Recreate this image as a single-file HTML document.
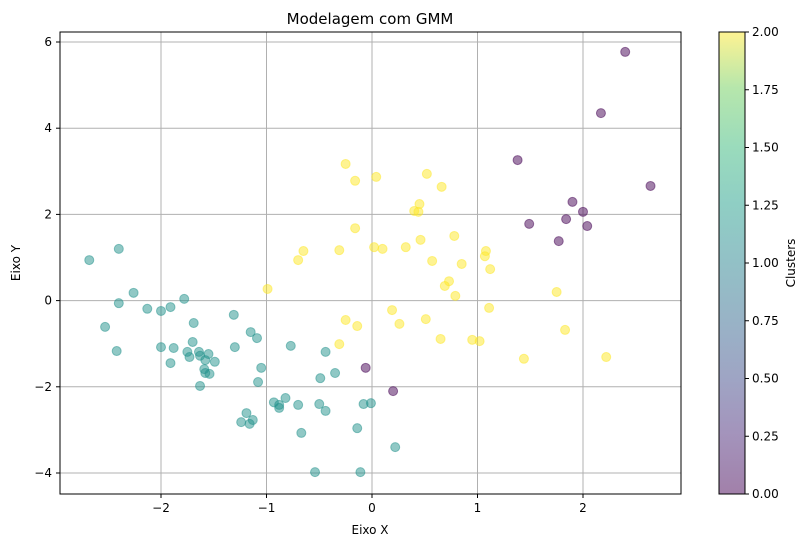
<!DOCTYPE html>
<html><head><meta charset="utf-8"><style>
body{margin:0;background:#fff;font-family:"Liberation Sans","DejaVu Sans",sans-serif;}
svg text{font-family:"DejaVu Sans","Liberation Sans",sans-serif;}
</style></head><body>
<svg id="chart" width="811" height="547" xmlns="http://www.w3.org/2000/svg">
<defs>
<linearGradient id="vir" x1="0" y1="1" x2="0" y2="0">
<stop offset="0" stop-color="#440154"/><stop offset="0.13" stop-color="#482878"/><stop offset="0.25" stop-color="#3e4a89"/><stop offset="0.38" stop-color="#31688e"/><stop offset="0.5" stop-color="#26828e"/><stop offset="0.63" stop-color="#1f9e89"/><stop offset="0.75" stop-color="#35b779"/><stop offset="0.88" stop-color="#6ece58"/><stop offset="1" stop-color="#fde725"/>
</linearGradient>
</defs>
<g id="grid"></g>
<g id="points"></g>
<rect x="60" y="32" width="621" height="462" fill="none" stroke="#000" stroke-width="1"/>
<g id="axes"></g>
<text x="370" y="24" font-size="15" text-anchor="middle">Modelagem com GMM</text>
<text x="370" y="534" font-size="12" text-anchor="middle">Eixo X</text>
<text x="20" y="263" font-size="12" text-anchor="middle" transform="rotate(-90 20 263)">Eixo Y</text>
<g>
<rect x="719" y="32" width="26" height="462" fill="url(#vir)" opacity="0.5"/>
<rect x="719" y="32" width="26" height="462" fill="none" stroke="#000" stroke-width="1"/>
</g>
<g id="cbar"></g>
<text x="795" y="263" font-size="12" text-anchor="middle" transform="rotate(-90 795 263)">Clusters</text>
</svg>
<script>
const xTicks=[-2,-1,0,1,2];
const yTicks=[-4,-2,0,2,4,6];
const cbTicks=[0,0.25,0.5,0.75,1,1.25,1.5,1.75,2];
const c0x=[2.40,2.17,1.38,2.64,1.90,2.00,1.84,1.49,2.04,1.77,-0.06,0.20];
const c0y=[5.77,4.35,3.26,2.66,2.29,2.06,1.89,1.78,1.73,1.38,-1.56,-2.10];
const c1x=[-2.68,-2.40,-2.26,-2.40,-2.13,-1.78,-1.91,-2.00,-2.53,-1.69,-1.31,-1.15,-1.09,-1.70,-2.00,-1.88,-2.42,-1.64,-1.75,-1.63,-1.55,-1.58,-1.49,-1.91,-1.73,-1.59,-1.58,-1.54,-1.63,-1.30,-1.05,-1.08,-0.77,-0.44,-0.35,-0.49,-0.93,-1.19,-1.24,-1.16,-1.13,-0.88,-0.82,-0.88,-0.70,-0.67,-0.50,-0.44,-0.08,-0.01,-0.14,0.22,-0.54,-0.11];
const c1y=[0.94,1.20,0.18,-0.06,-0.19,0.04,-0.15,-0.24,-0.61,-0.52,-0.33,-0.73,-0.87,-0.96,-1.08,-1.10,-1.17,-1.19,-1.19,-1.28,-1.24,-1.38,-1.42,-1.45,-1.31,-1.59,-1.68,-1.70,-1.98,-1.08,-1.56,-1.89,-1.05,-1.19,-1.68,-1.80,-2.36,-2.61,-2.82,-2.86,-2.77,-2.49,-2.26,-2.42,-2.42,-3.07,-2.40,-2.56,-2.40,-2.38,-2.96,-3.40,-3.98,-3.98];
const c2x=[-0.25,-0.16,0.04,0.52,0.66,0.40,0.44,0.45,-0.65,-0.70,-0.16,-0.31,0.02,0.10,0.32,0.46,0.78,1.08,1.07,0.57,0.73,0.69,0.85,1.12,0.79,1.75,-0.99,0.19,-0.25,-0.14,0.26,0.51,1.11,-0.31,0.65,0.95,1.02,1.83,1.44,2.22];
const c2y=[3.17,2.78,2.87,2.94,2.64,2.08,2.06,2.24,1.15,0.94,1.68,1.17,1.24,1.20,1.24,1.41,1.50,1.15,1.03,0.92,0.45,0.34,0.85,0.73,0.11,0.20,0.27,-0.22,-0.45,-0.59,-0.54,-0.43,-0.17,-1.01,-0.89,-0.91,-0.94,-0.68,-1.35,-1.31];
const NS="http://www.w3.org/2000/svg";
const sx=v=>372+v*105.5;
const sy=v=>300.6-v*43.1;
const cy=v=>494-v/2*462;
function mk(t,a,p){const e=document.createElementNS(NS,t);for(const k in a)e.setAttribute(k,a[k]);p.appendChild(e);return e;}
const grid=document.getElementById('grid'),axes=document.getElementById('axes'),pts=document.getElementById('points'),cb=document.getElementById('cbar');
xTicks.forEach(v=>{
 const g=mk('line',{x1:sx(v),x2:sx(v),y1:32,y2:494,stroke:'#b0b0b0','stroke-width':1},grid);
 
 
 mk('line',{x1:sx(v),x2:sx(v),y1:494,y2:498,stroke:'#000'},axes);
 const t=mk('text',{x:sx(v),y:512,'font-size':12,'text-anchor':'middle'},axes);
 t.textContent=(v<0?'\u2212'+(-v):v);
 
 
});
yTicks.forEach(v=>{
 const g=mk('line',{x1:60,x2:681,y1:sy(v),y2:sy(v),stroke:'#b0b0b0','stroke-width':1},grid);
 
 
 mk('line',{x1:56,x2:60,y1:sy(v),y2:sy(v),stroke:'#000'},axes);
 const t=mk('text',{x:52,y:sy(v)+4,'font-size':12,'text-anchor':'end'},axes);
 t.textContent=(v<0?'\u2212'+(-v):v);
 
 
});
cbTicks.forEach(v=>{
 mk('line',{x1:745,x2:749,y1:cy(v),y2:cy(v),stroke:'#000'},cb);
 const t=mk('text',{x:752,y:cy(v)+4,'font-size':12},cb);
 t.textContent=v.toFixed(2);
 
 
});
[[c0x,c0y,'#440154','cluster-0-point'],[c1x,c1y,'#21918c','cluster-1-point'],[c2x,c2y,'#fde725','cluster-2-point']].forEach(([xs,ys,col,name])=>{
 xs.forEach((x,i)=>{
  const c=mk('circle',{cx:sx(x),cy:sy(ys[i]),r:4.5,fill:col,'fill-opacity':0.5,stroke:col,'stroke-opacity':0.5,'stroke-width':1},pts);
  
  
 });
});
</script>
</body></html>
